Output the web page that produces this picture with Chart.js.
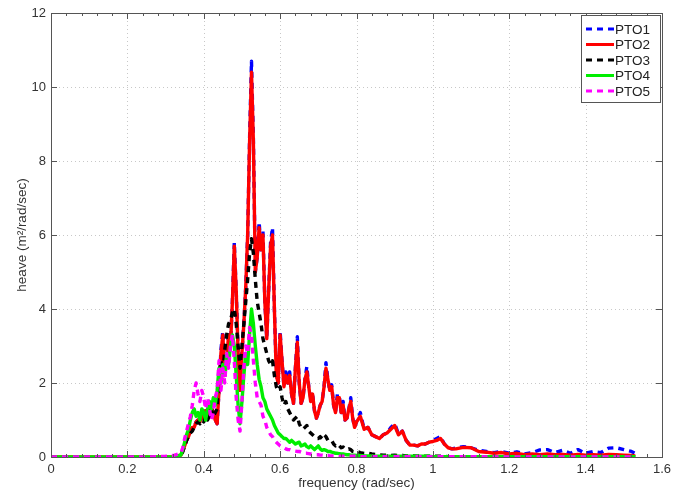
<!DOCTYPE html>
<html>
<head>
<meta charset="utf-8">
<script src="https://cdn.jsdelivr.net/npm/chart.js@4.4.0/dist/chart.umd.min.js"></script>
<style>
html,body{margin:0;padding:0;background:#fff;}
#wrap{width:690px;height:493px;}
</style>
</head>
<body>
<div id="wrap"><canvas id="c" width="690" height="493"></canvas></div>
<script>
// ---------------- data ----------------
const freq = [0,0.05,0.1,0.15,0.2,0.25,0.3,0.32,
0.34,0.345,0.35,0.355,0.36,0.365,0.37,0.375,0.38,0.385,0.39,0.395,
0.40,0.405,0.41,0.415,0.42,0.425,0.43,0.435,0.44,0.445,
0.45,0.455,0.46,0.465,0.47,0.475,0.48,0.485,0.49,0.495,
0.50,0.505,0.51,0.515,0.52,0.525,0.53,0.535,0.54,0.545,
0.55,0.555,0.56,0.565,0.57,0.575,0.58,0.585,0.59,0.595,
0.60,0.605,0.61,0.615,0.62,0.625,0.63,0.635,0.64,0.645,
0.65,0.655,0.66,0.665,0.67,0.675,0.68,0.685,0.69,0.695,
0.70,0.705,0.71,0.715,0.72,0.725,0.73,0.735,0.74,0.745,
0.75,0.755,0.76,0.765,0.77,0.775,0.78,0.785,0.79,0.795,
0.80,0.81,0.82,0.83,0.84,0.85,0.86,0.87,0.88,0.89,
0.90,0.91,0.92,0.93,0.94,0.95,0.96,0.97,0.98,0.99,
1.00,1.01,1.02,1.03,1.04,1.05,1.06,1.08,1.10,1.12,
1.14,1.16,1.18,1.20,1.22,1.24,1.26,1.28,1.30,1.32,
1.34,1.36,1.38,1.40,1.42,1.44,1.46,1.48,1.50,1.52,1.53];

const pto1 = [0,0,0,0,0,0,0,0.01,
0.05,0.15,0.3,0.45,0.55,0.7,0.8,0.8,0.95,1.0,0.95,1.1,
1.05,1.25,1.2,1.1,1.35,1.2,1.0,0.9,1.8,2.9,
3.4,2.2,2.6,3.4,3.0,4.2,5.8,4.5,2.8,1.8,
2.8,3.6,4.6,6.0,8.6,10.7,8.6,5.0,5.4,6.35,
5.6,6.1,4.2,3.2,4.5,5.8,6.2,4.0,2.2,2.0,
3.4,2.6,1.9,2.3,2.0,2.3,1.7,1.45,2.4,3.25,
2.0,1.45,1.6,2.1,2.45,1.9,1.6,1.7,1.25,1.05,
1.2,1.4,1.5,1.9,2.55,2.1,1.8,1.95,1.4,1.2,
1.7,1.65,1.2,1.5,1.0,1.05,1.3,1.6,1.05,0.8,
0.95,1.2,0.75,0.8,0.6,0.55,0.5,0.6,0.65,0.8,
0.9,0.62,0.7,0.45,0.32,0.32,0.3,0.35,0.35,0.4,
0.45,0.5,0.55,0.35,0.25,0.22,0.24,0.28,0.25,0.18,
0.15,0.12,0.15,0.1,0.14,0.08,0.12,0.19,0.2,0.12,
0.18,0.1,0.2,0.1,0.15,0.12,0.24,0.25,0.2,0.15,0.1];

const pto2 = [0,0,0,0,0,0,0,0.01,
0.05,0.15,0.3,0.45,0.55,0.7,0.8,0.8,0.95,1.0,0.95,1.1,
1.05,1.25,1.2,1.1,1.35,1.2,1.0,0.9,1.8,2.8,
3.3,2.2,2.6,3.3,3.0,4.2,5.7,4.5,2.8,1.8,
2.8,3.6,4.6,6.0,8.5,10.4,8.5,5.0,5.4,6.2,
5.6,6.0,4.2,3.2,4.5,5.7,6.0,4.0,2.2,2.0,
3.3,2.6,1.9,2.2,2.0,2.2,1.7,1.45,2.4,3.1,
2.0,1.45,1.6,2.1,2.3,1.9,1.5,1.7,1.25,1.05,
1.2,1.4,1.5,1.9,2.4,2.1,1.8,1.9,1.4,1.2,
1.6,1.6,1.2,1.4,1.0,1.05,1.3,1.5,1.05,0.8,
0.95,1.1,0.75,0.8,0.6,0.55,0.5,0.6,0.65,0.75,
0.85,0.6,0.7,0.45,0.32,0.32,0.3,0.35,0.35,0.4,
0.42,0.45,0.5,0.35,0.25,0.22,0.22,0.26,0.25,0.15,
0.13,0.1,0.12,0.08,0.1,0.06,0.08,0.06,0.08,0.06,
0.07,0.05,0.07,0.05,0.06,0.05,0.07,0.06,0.05,0.04,0.03];

const pto3 = [0,0,0,0,0,0,0,0.01,
0.05,0.15,0.3,0.45,0.55,0.65,0.7,0.8,0.9,0.95,0.9,1.0,
0.95,1.1,1.0,1.1,1.3,1.1,1.2,1.3,2.2,2.6,
2.3,2.9,3.3,3.6,3.7,3.9,4.0,3.6,3.0,2.4,
3.0,3.6,4.2,4.8,5.5,5.9,5.5,4.8,4.2,3.9,
3.6,3.2,3.0,2.8,2.6,2.5,2.6,2.2,1.9,1.8,
1.9,1.6,1.4,1.5,1.3,1.2,1.1,1.0,1.05,1.1,
0.9,0.8,0.75,0.8,0.85,0.7,0.65,0.6,0.55,0.5,
0.5,0.55,0.5,0.6,0.55,0.45,0.45,0.45,0.35,0.3,
0.35,0.3,0.25,0.27,0.22,0.2,0.22,0.2,0.15,0.14,
0.15,0.12,0.1,0.1,0.08,0.07,0.06,0.05,0.05,0.04,
0.05,0.04,0.04,0.03,0.03,0.03,0.02,0.02,0.02,0.02,
0.02,0.02,0.02,0.02,0.01,0.01,0.01,0.01,0.01,0.01,
0.01,0.01,0.01,0.01,0.01,0.01,0.01,0.01,0.01,0.01,
0.01,0.01,0.01,0.01,0.01,0.01,0.01,0.01,0.01,0.01,0.01];

const pto4 = [0,0,0,0,0,0,0,0.01,
0.05,0.2,0.4,0.6,0.75,1.0,1.2,1.3,1.1,1.2,1.0,1.3,
1.2,1.0,1.3,1.5,1.3,1.6,1.4,1.8,2.4,2.0,
2.5,2.2,2.8,2.5,3.0,3.3,3.0,2.2,1.4,0.9,
1.5,2.2,2.8,2.5,3.3,4.0,3.6,3.0,2.5,2.1,
1.9,1.6,1.5,1.3,1.2,1.1,1.0,0.85,0.75,0.65,
0.6,0.55,0.5,0.5,0.45,0.4,0.45,0.4,0.35,0.38,
0.4,0.3,0.32,0.35,0.28,0.25,0.3,0.25,0.2,0.25,
0.3,0.22,0.18,0.2,0.18,0.15,0.15,0.13,0.12,0.1,
0.1,0.09,0.08,0.08,0.07,0.06,0.06,0.05,0.05,0.05,
0.04,0.04,0.03,0.03,0.03,0.02,0.02,0.02,0.02,0.02,
0.02,0.02,0.02,0.02,0.02,0.02,0.02,0.02,0.02,0.02,
0.01,0.01,0.01,0.01,0.01,0.01,0.01,0.01,0.01,0.01,
0.01,0.01,0.01,0.01,0.01,0.01,0.01,0.01,0.01,0.01,
0.01,0.01,0.01,0.01,0.01,0.01,0.01,0.01,0.01,0.01,0.01];

const pto5 = [0,0,0,0,0,0,0.02,0.04,
0.1,0.25,0.5,0.7,0.9,1.1,1.4,1.8,2.0,1.7,1.5,1.8,
1.6,1.3,1.6,1.3,1.0,1.2,1.6,1.8,2.6,1.8,
2.4,2.0,2.8,2.4,3.0,3.3,2.6,1.6,1.0,0.7,
1.5,2.4,3.0,2.8,3.5,3.3,2.6,2.0,1.6,1.5,
1.4,1.1,1.0,0.8,0.7,0.6,0.55,0.45,0.4,0.35,
0.3,0.28,0.25,0.22,0.2,0.2,0.18,0.17,0.16,0.15,
0.15,0.13,0.12,0.1,0.1,0.09,0.08,0.08,0.07,0.06,
0.06,0.05,0.05,0.04,0.04,0.04,0.03,0.03,0.03,0.03,
0.03,0.02,0.02,0.02,0.02,0.02,0.02,0.02,0.02,0.02,
0.01,0.01,0.01,0.01,0.01,0.01,0.01,0.01,0.01,0.01,
0.01,0.01,0.01,0.01,0.01,0.01,0.01,0.01,0.01,0.01,
0.01,0.01,0.01,0.01,0.01,0.01,0.01,0.01,0.01,0.01,
0,0,0,0,0,0,0,0,0,0,
0,0,0,0,0,0,0,0,0,0,0];

const seriesNames = ['PTO1','PTO2','PTO3','PTO4','PTO5'];
const xTicks = [0,0.2,0.4,0.6,0.8,1,1.2,1.4,1.6];
const xTickLabels = ['0','0.2','0.4','0.6','0.8','1','1.2','1.4','1.6'];
const yTicks = [0,2,4,6,8,10,12];
const yTickLabels = ['0','2','4','6','8','10','12'];
const xMinorStep = 0.04;
const xTitle = 'frequency (rad/sec)';
const yTitle = 'heave (m\u00B2/rad/sec)';

// ---------------- chart ----------------
const FONT = "'Liberation Sans', Arial, Helvetica, sans-serif";
const styles = [
  {color:'#0000ff', dash:[6,5]},
  {color:'#ff0000', dash:[]},
  {color:'#000000', dash:[6,5]},
  {color:'#00ee00', dash:[]},
  {color:'#ff00ff', dash:[6,5]}
];
const allSeries = [pto1, pto2, pto3, pto4, pto5];

const datasets = allSeries.map((arr, k) => ({
  label: seriesNames[k],
  data: freq.map((f, i) => ({x: f, y: arr[i]})),
  borderColor: styles[k].color,
  backgroundColor: styles[k].color,
  borderDash: styles[k].dash,
  borderWidth: 3.4,
  pointRadius: 0,
  tension: 0,
  fill: false,
  order: 5 - k,
  borderJoinStyle: 'round'
}));

const framePlugin = {
  id: 'frame',
  beforeDatasetsDraw(chart) {
    const {ctx, chartArea: a, scales: {x, y}} = chart;
    ctx.save();
    ctx.strokeStyle = '#c8c8c8';
    ctx.lineWidth = 1;
    ctx.setLineDash([1, 3]);
    xTicks.forEach(v => {
      const px = Math.round(x.getPixelForValue(v)) + 0.5;
      if (px <= a.left + 1 || px >= a.right - 1) return;
      ctx.beginPath(); ctx.moveTo(px, a.top); ctx.lineTo(px, a.bottom); ctx.stroke();
    });
    yTicks.forEach(v => {
      const py = Math.round(y.getPixelForValue(v)) + 0.5;
      if (py <= a.top + 1 || py >= a.bottom - 1) return;
      ctx.beginPath(); ctx.moveTo(a.left, py); ctx.lineTo(a.right, py); ctx.stroke();
    });
    ctx.restore();
  },
  afterDatasetsDraw(chart) {
    const {ctx, chartArea: a, scales: {x, y}} = chart;
    ctx.save();
    ctx.setLineDash([]);
    ctx.strokeStyle = '#555';
    ctx.lineWidth = 1;
    for (let v = xMinorStep; v < 1.6 - 1e-6; v += xMinorStep) {
      const px = Math.round(x.getPixelForValue(v)) + 0.5;
      ctx.beginPath(); ctx.moveTo(px, a.bottom); ctx.lineTo(px, a.bottom - 3); ctx.stroke();
      ctx.beginPath(); ctx.moveTo(px, a.top); ctx.lineTo(px, a.top + 3); ctx.stroke();
    }
    xTicks.forEach(v => {
      const px = Math.round(x.getPixelForValue(v)) + 0.5;
      ctx.beginPath(); ctx.moveTo(px, a.bottom); ctx.lineTo(px, a.bottom - 6); ctx.stroke();
      ctx.beginPath(); ctx.moveTo(px, a.top); ctx.lineTo(px, a.top + 6); ctx.stroke();
    });
    yTicks.forEach(v => {
      const py = Math.round(y.getPixelForValue(v)) + 0.5;
      ctx.beginPath(); ctx.moveTo(a.left, py); ctx.lineTo(a.left + 6, py); ctx.stroke();
      ctx.beginPath(); ctx.moveTo(a.right, py); ctx.lineTo(a.right - 6, py); ctx.stroke();
    });
    ctx.strokeRect(Math.round(a.left) + 0.5, Math.round(a.top) + 0.5,
                   Math.round(a.right - a.left), Math.round(a.bottom - a.top));
    ctx.restore();
  },
  afterDraw(chart) {
    const {ctx} = chart;
    const ds = chart.data.datasets;
    const bx = 581.5, by = 15.5, bw = 79, bh = 87;
    ctx.save();
    ctx.fillStyle = '#fff';
    ctx.fillRect(bx, by, bw, bh);
    ctx.strokeStyle = '#555';
    ctx.lineWidth = 1;
    ctx.setLineDash([]);
    ctx.strokeRect(bx, by, bw, bh);
    ctx.font = '13.5px ' + FONT;
    ctx.textBaseline = 'middle';
    ctx.textAlign = 'left';
    ds.forEach((d, i) => {
      const cy = 29 + i * 15.5;
      ctx.strokeStyle = d.borderColor;
      ctx.lineWidth = 3;
      ctx.setLineDash(d.borderDash);
      ctx.beginPath(); ctx.moveTo(586, cy); ctx.lineTo(614, cy); ctx.stroke();
      ctx.setLineDash([]);
      ctx.fillStyle = '#222';
      ctx.fillText(d.label, 615, cy + 1);
    });
    ctx.restore();
  }
};

new Chart(document.getElementById('c'), {
  type: 'line',
  data: {datasets},
  options: {
    responsive: false,
    animation: false,
    devicePixelRatio: 1,
    layout: {padding: {top: 13, right: 28, left: 0, bottom: 0}},
    plugins: {legend: {display: false}, tooltip: {enabled: false}},
    scales: {
      x: {
        type: 'linear', min: 0, max: 1.6,
        afterBuildTicks: s => { s.ticks = xTicks.map(v => ({value: v})); },
        afterFit: s => { s.height = 36; },
        grid: {display: false, drawTicks: false},
        border: {display: false},
        ticks: {
          autoSkip: false, maxRotation: 0, padding: 5, color: '#333',
          font: {family: FONT, size: 13},
          callback: (v, i) => xTickLabels[i]
        },
        title: {display: true, text: xTitle, color: '#333',
                font: {family: FONT, size: 13.5}, padding: {top: 0, bottom: 2}}
      },
      y: {
        type: 'linear', min: 0, max: 12,
        afterBuildTicks: s => { s.ticks = yTicks.map(v => ({value: v})); },
        afterFit: s => { s.width = 51; },
        grid: {display: false, drawTicks: false},
        border: {display: false},
        ticks: {
          autoSkip: false, padding: 5, color: '#333',
          font: {family: FONT, size: 13},
          callback: (v, i) => yTickLabels[i]
        },
        title: {display: true, text: yTitle, color: '#333',
                font: {family: FONT, size: 13.5}, padding: {top: 14, bottom: 0}}
      }
    }
  },
  plugins: [framePlugin]
});
</script>
</body>
</html>
